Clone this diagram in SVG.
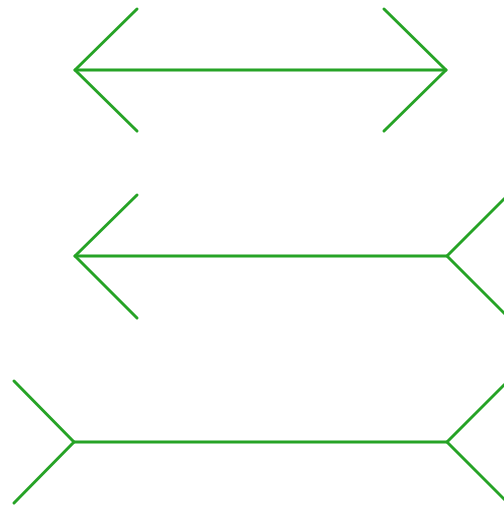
<svg xmlns="http://www.w3.org/2000/svg" width="504" height="508" viewBox="0 0 504 508">
<style>
.l{stroke:#26a326;stroke-width:3;fill:none;stroke-linecap:round;stroke-linejoin:round}
</style>
<rect width="504" height="508" fill="#ffffff"/>
<g id="top">
<line class="l" x1="75" y1="70" x2="446" y2="70"/>
<polyline class="l" points="137,9 75,70 137,131"/>
<polyline class="l" points="384,9 446,70 384,131"/>
</g>
<g id="middle">
<line class="l" x1="75" y1="256" x2="447" y2="256"/>
<polyline class="l" points="137,195 75,256 137,318"/>
<polyline class="l" points="509,194 447,256 509,318"/>
</g>
<g id="bottom">
<line class="l" x1="74" y1="442" x2="447" y2="442"/>
<polyline class="l" points="14,381 74,442 14,503"/>
<polyline class="l" points="509,380 447,442 509,504"/>
</g>
</svg>
